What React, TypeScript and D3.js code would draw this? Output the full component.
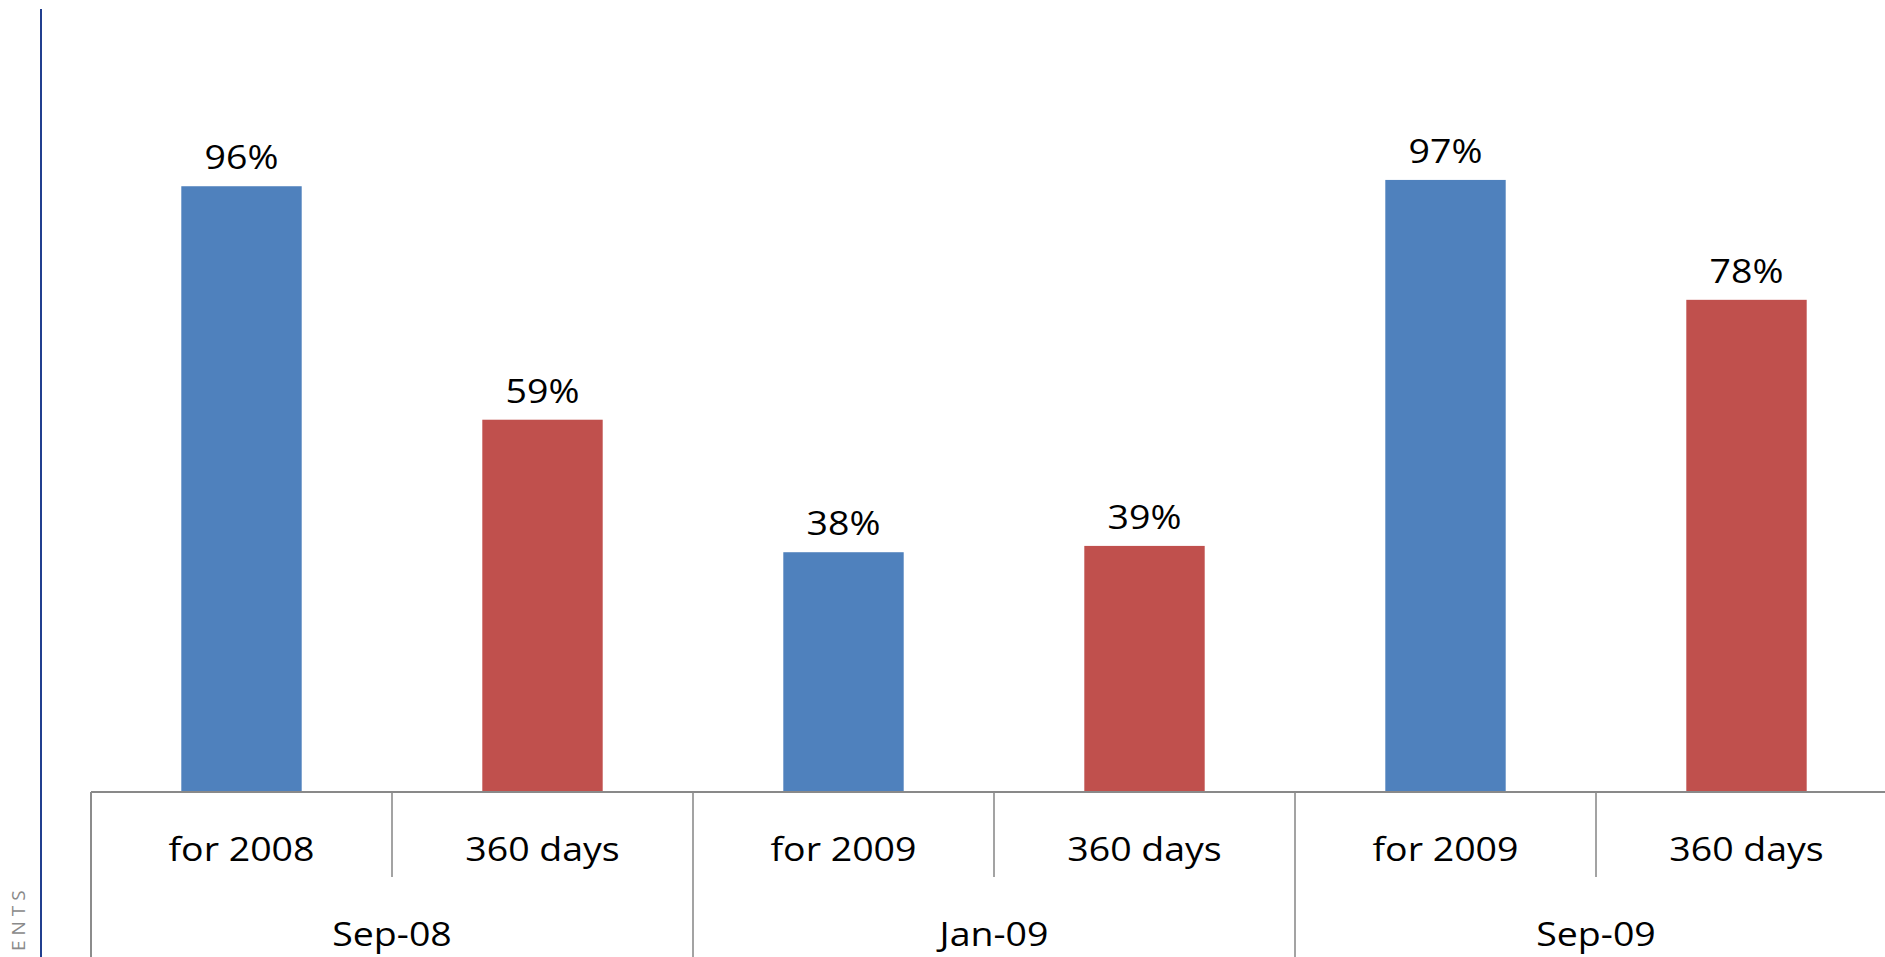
import * as d3 from "d3";

const groups = ["Sep-08", "Jan-09", "Sep-09"];
const leafLabels = ["for 2008", "360 days", "for 2009", "360 days", "for 2009", "360 days"];
const leafGroup = ["Sep-08", "Sep-08", "Jan-09", "Jan-09", "Sep-09", "Sep-09"];
const values = [0.96, 0.59, 0.38, 0.39, 0.97, 0.78];
const seriesOfLeaf = ["a", "b", "a", "b", "a", "b"];

const W = 1885;
const H = 957;
const axisY = 792;
const left = 91;
const right = 1897;

const colors: Record<string, string> = { a: "#4F81BD", b: "#C0504D" };
const font = "'Open Sans', 'DejaVu Sans', sans-serif";
const stretch = 1.12;

const App = () => {
  const x = d3
    .scaleBand<number>()
    .domain(leafLabels.map((_d, i) => i))
    .range([left, right])
    .padding(0);

  const xGroup = d3.scaleBand<string>().domain(groups).range([left, right]).padding(0);

  const y = d3.scaleLinear().domain([0, 1]).range([axisY, axisY - 631]);

  const barW = x.bandwidth() * 0.4;
  const fmt = d3.format(".0%");

  return (
    <svg
      width={W}
      height={H}
      style={{ position: "absolute", left: 0, top: 0, display: "block", background: "#fff" }}
    >
      {/* vertical rule at page edge */}
      <line x1={41} x2={41} y1={9} y2={H} stroke="#213F8F" strokeWidth={2} />
      <text
        transform={`translate(25, 951) rotate(-90)`}
        fontFamily={font}
        fontSize={19}
        letterSpacing={5}
        fill="#8a8a8a"
      >
        ENTS
      </text>

      {/* bars */}
      {values.map((v, i) => {
        const cx = (x(i) as number) + x.bandwidth() / 2;
        return (
          <g key={i}>
            <rect
              x={cx - barW / 2}
              y={y(v)}
              width={barW}
              height={axisY - y(v)}
              fill={colors[seriesOfLeaf[i]]}
            />
            <g transform={`translate(${cx}, ${y(v) - 17}) scale(${stretch},1)`}>
              <text textAnchor="middle" fontFamily={font} fontSize={33.5} fill="#000">
                {fmt(v)}
              </text>
            </g>
          </g>
        );
      })}

      {/* category axis */}
      <line x1={left} x2={W} y1={axisY} y2={axisY} stroke="#898989" strokeWidth={2} />
      {leafLabels.map((lab, i) => {
        const x0 = x(i) as number;
        const isGroupStart = i === 0 || leafGroup[i] !== leafGroup[i - 1];
        return (
          <g key={"t" + i}>
            <line
              x1={x0}
              x2={x0}
              y1={axisY}
              y2={isGroupStart ? H : 877}
              stroke="#8c8c8c"
              strokeWidth={isGroupStart && i === 0 ? 2 : 1.6}
            />
            <g transform={`translate(${x0 + x.bandwidth() / 2}, 861) scale(${stretch},1)`}>
              <text textAnchor="middle" fontFamily={font} fontSize={33.5} fill="#000">
                {lab}
              </text>
            </g>
          </g>
        );
      })}
      {groups.map(g => (
        <g
          key={g}
          transform={`translate(${(xGroup(g) as number) + xGroup.bandwidth() / 2}, 946) scale(${stretch},1)`}
        >
          <text textAnchor="middle" fontFamily={font} fontSize={33.5} fill="#000">
            {g}
          </text>
        </g>
      ))}
    </svg>
  );
};

export default App;
